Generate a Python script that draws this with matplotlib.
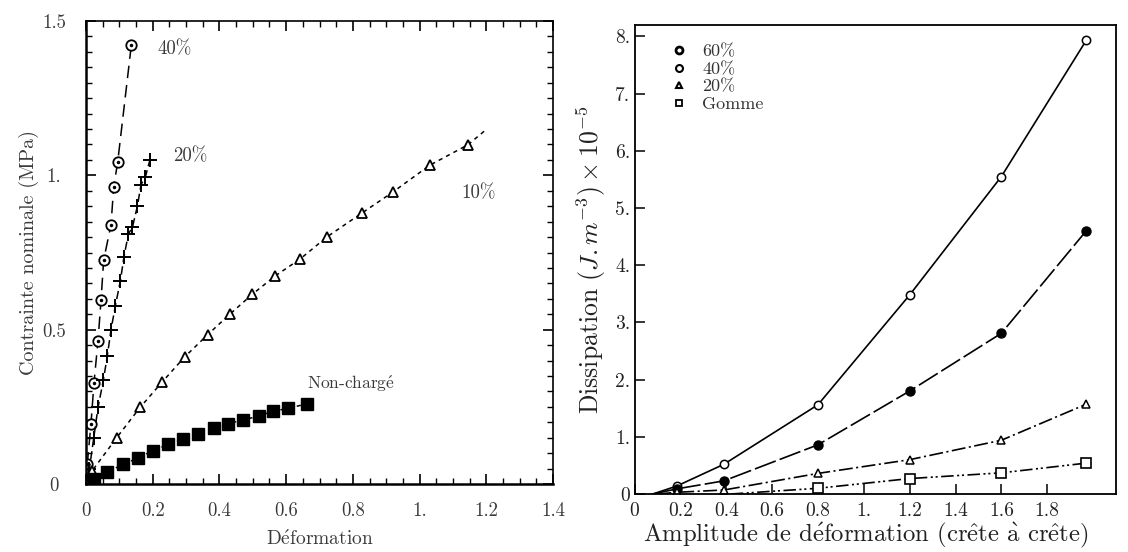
import matplotlib
matplotlib.use("Agg")
import matplotlib.pyplot as plt
from matplotlib.lines import Line2D
from matplotlib.ticker import MultipleLocator, FixedLocator

plt.rcParams['font.family'] = ['cmr10', 'DejaVu Serif']
plt.rcParams['mathtext.fontset'] = 'cm'
plt.rcParams['axes.formatter.use_mathtext'] = True
plt.rcParams['lines.scale_dashes'] = False

# ---------------- left panel data ----------------
s40_x = [0.004, 0.015, 0.024, 0.036, 0.045, 0.053, 0.075, 0.083, 0.095, 0.136]
s40_y = [0.066, 0.196, 0.328, 0.464, 0.595, 0.726, 0.840, 0.962, 1.043, 1.423]

s20_x = [0.010, 0.023, 0.036, 0.052, 0.064, 0.075, 0.088, 0.103, 0.114, 0.127, 0.139, 0.154, 0.165, 0.178, 0.192]
s20_y = [0.048, 0.148, 0.248, 0.336, 0.416, 0.500, 0.577, 0.658, 0.737, 0.810, 0.831, 0.900, 0.970, 0.995, 1.051]

s10_x = [0.018, 0.092, 0.162, 0.228, 0.296, 0.365, 0.431, 0.499, 0.567, 0.642, 0.723, 0.826, 0.919, 1.031, 1.145]
s10_y = [0.042, 0.150, 0.248, 0.330, 0.412, 0.484, 0.550, 0.615, 0.674, 0.729, 0.801, 0.877, 0.945, 1.033, 1.099]
s10_line_end = (1.196, 1.145)

nc_x = [0.023, 0.064, 0.112, 0.157, 0.201, 0.246, 0.291, 0.335, 0.383, 0.427, 0.472, 0.519, 0.562, 0.607, 0.662]
nc_y = [0.015, 0.039, 0.064, 0.085, 0.108, 0.128, 0.145, 0.163, 0.182, 0.196, 0.207, 0.221, 0.236, 0.245, 0.260]

left_xticks = [0, 0.2, 0.4, 0.6, 0.8, 1.0, 1.2, 1.4]
left_xticklabels = ["0", "0.2", "0.4", "0.6", "0.8", "1.", "1.2", "1.4"]
left_yticks = [0, 0.5, 1.0, 1.5]
left_yticklabels = ["0", "0.5", "1.", "1.5"]

# ---------------- right panel data ----------------
amp = [0.185, 0.39, 0.80, 1.20, 1.60, 1.97]
d60 = [0.14, 0.52, 1.56, 3.48, 5.55, 7.93]
d40 = [0.09, 0.23, 0.86, 1.80, 2.81, 4.60]
d20 = [0.03, 0.07, 0.36, 0.60, 0.94, 1.57]
amp_gomme = [0.80, 1.20, 1.60, 1.97]
dgomme = [0.10, 0.27, 0.37, 0.54]
line_start = {"60%": 0.08, "40%": 0.08, "20%": 0.10, "Gomme": 0.42}

right_xticks = [0, 0.2, 0.4, 0.6, 0.8, 1.0, 1.2, 1.4, 1.6, 1.8]
right_xticklabels = ["0", "0.2", "0.4", "0.6", "0.8", "1.", "1.2", "1.4", "1.6", "1.8"]
right_yticks = [0, 1, 2, 3, 4, 5, 6, 7, 8]
right_yticklabels = ["0", "1.", "2.", "3.", "4.", "5.", "6.", "7.", "8."]

W, H = 1128, 552
fig = plt.figure(figsize=(W / 100, H / 100), dpi=100)

def rect(l, t, r, b):
    return [l / W, 1 - b / H, (r - l) / W, (b - t) / H]

grey = '#3a3a3a'

# ================= LEFT =================
ax = fig.add_axes(rect(86, 21, 553, 484))
ax.set_xlim(0, 1.4)
ax.set_ylim(0, 1.5)

ax.plot([0] + s40_x, [0] + s40_y, color='k', lw=1.1, dashes=(9, 5))
ax.plot(s40_x, s40_y, ls='none', marker='o', ms=7.5, mfc='white', mec='k', mew=1.3)
ax.plot(s40_x, s40_y, ls='none', marker='o', ms=1.5, color='k')

ax.plot([0] + s20_x, [0] + s20_y, color='k', lw=1.1, dashes=(6, 3))
ax.plot(s20_x, s20_y, ls='none', marker='+', ms=10, mec='k', mew=1.4)

ax.plot([0] + s10_x + [s10_line_end[0]], [0] + s10_y + [s10_line_end[1]],
        color='k', lw=1.1, dashes=(3, 3))
ax.plot(s10_x, s10_y, ls='none', marker='^', ms=7, mfc='white', mec='k', mew=1.3)

ax.plot(nc_x, nc_y, color='k', lw=1.1, dashes=(3, 3))
ax.plot(nc_x, nc_y, ls='none', marker='s', ms=9, color='k')

ax.text(0.213, 1.41, "40%", fontsize=13.5, color=grey, va='center', ha='left')
ax.text(0.26, 1.063, "20%", fontsize=13.5, color=grey, va='center', ha='left')
ax.text(1.124, 0.943, "10%", fontsize=13.5, color=grey, va='center', ha='left')
ax.text(0.663, 0.325, r"Non-charg$\acute{\mathrm{e}}$", fontsize=12.5, color=grey,
        va='center', ha='left')

ax.xaxis.set_major_locator(FixedLocator(left_xticks))
ax.set_xticklabels(left_xticklabels)
ax.yaxis.set_major_locator(FixedLocator(left_yticks))
ax.set_yticklabels(left_yticklabels, ha='center')
ax.xaxis.set_minor_locator(MultipleLocator(0.05))
ax.yaxis.set_minor_locator(MultipleLocator(0.05))
ax.tick_params(which='both', direction='in', top=True, right=True, colors='k',
               labelcolor=grey, labelsize=13.5)
ax.tick_params(which='major', length=7, width=1.2)
ax.tick_params(which='minor', length=4, width=1.0)
ax.tick_params(axis='x', which='major', pad=13)
ax.tick_params(axis='y', which='major', pad=23)
for s in ax.spines.values():
    s.set_linewidth(1.2)
ax.spines['left'].set_linewidth(1.8)
ax.spines['bottom'].set_linewidth(1.8)

ax.set_xlabel(r"D$\acute{\mathrm{e}}$formation", fontsize=14, color=grey, labelpad=7)
ax.set_ylabel("Contrainte nominale (MPa)", fontsize=14.5, color=grey, labelpad=2)

# ================= RIGHT =================
bx = fig.add_axes(rect(634.5, 25, 1116, 494))
bx.set_xlim(0, 2.1)
bx.set_ylim(0, 8.2)

bx.plot([line_start["60%"]] + amp, [0] + d60, color='k', lw=1.2)
bx.plot(amp, d60, ls='none', marker='o', ms=6, mfc='white', mec='k', mew=1.1)

bx.plot([line_start["40%"]] + amp, [0] + d40, color='k', lw=1.2, dashes=(16, 3))
bx.plot(amp, d40, ls='none', marker='o', ms=6.5, color='k')

bx.plot([line_start["20%"]] + amp, [0] + d20, color='k', lw=1.2, dashes=(10, 2.5, 1.5, 2.5))
bx.plot(amp, d20, ls='none', marker='^', ms=6, mfc='white', mec='k', mew=1.1)

bx.plot([line_start["Gomme"]] + amp_gomme, [0] + dgomme, color='k', lw=1.2,
        dashes=(9, 2.5, 1.5, 2, 1.5, 2.5))
bx.plot(amp_gomme, dgomme, ls='none', marker='s', ms=6.5, mfc='white', mec='k', mew=1.2)

handles = [
    Line2D([], [], ls='none', marker='o', ms=5, mfc='white', mec='k', mew=2.0),
    Line2D([], [], ls='none', marker='o', ms=5, mfc='white', mec='k', mew=1.5),
    Line2D([], [], ls='none', marker='^', ms=4.5, mfc='white', mec='k', mew=1.5),
    Line2D([], [], ls='none', marker='s', ms=5, mfc='white', mec='k', mew=1.3),
]
leg = bx.legend(handles, ["60%", "40%", "20%", "Gomme"], loc='upper left',
                bbox_to_anchor=(0.062, 0.975), frameon=False, fontsize=13,
                handlelength=0.8, handletextpad=0.9, labelspacing=0.1,
                borderaxespad=0.0)
for t in leg.get_texts():
    t.set_color('#333333')

bx.xaxis.set_major_locator(FixedLocator(right_xticks))
bx.set_xticklabels(right_xticklabels)
bx.yaxis.set_major_locator(FixedLocator(right_yticks))
bx.set_yticklabels(right_yticklabels)
bx.tick_params(direction='in', top=False, right=False, length=7, width=1.1,
               labelsize=14, colors='k', labelcolor='#222222')
bx.tick_params(axis='x', pad=6)
bx.tick_params(axis='y', pad=3)
for s in bx.spines.values():
    s.set_linewidth(1.3)

bx.set_xlabel(r"Amplitude de d$\acute{\mathrm{e}}$formation (cr$\hat{\mathrm{e}}$te $\grave{\mathrm{a}}$ cr$\hat{\mathrm{e}}$te)",
              fontsize=17.8, color='#222222')
bx.xaxis.set_label_coords(0.48, -0.058)
bx.set_ylabel(r"Dissipation $(J.m^{-3})\times 10^{-5}$", fontsize=18.5, color='#222222', labelpad=5)

fig.savefig("out.png", dpi=100)
